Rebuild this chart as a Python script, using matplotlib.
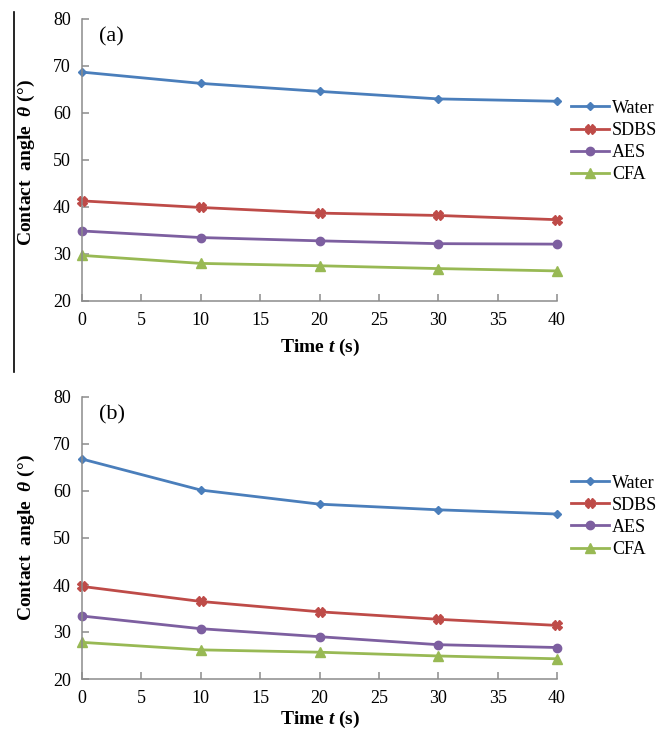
import matplotlib
matplotlib.use("Agg")
import matplotlib.pyplot as plt

# data
time_s = [0, 10, 20, 30, 40]
series_names = ["Water", "SDBS", "AES", "CFA"]

water_a = [68.7, 66.3, 64.6, 63.0, 62.5]
sdbs_a = [41.3, 39.9, 38.7, 38.2, 37.3]
aes_a = [34.9, 33.5, 32.8, 32.2, 32.1]
cfa_a = [29.7, 28.0, 27.5, 26.9, 26.4]

water_b = [66.8, 60.2, 57.2, 56.0, 55.1]
sdbs_b = [39.7, 36.5, 34.3, 32.7, 31.4]
aes_b = [33.4, 30.7, 29.0, 27.3, 26.7]
cfa_b = [27.8, 26.2, 25.7, 24.9, 24.3]

colors = ["#4a7ebb", "#be4b48", "#7d5fa0", "#98b954"]
markers = ["D", "X", "o", "^"]
msizes = [4.5, 6.5, 6, 6.5]

plt.rcParams["font.family"] = ["Liberation Serif", "DejaVu Serif"]
plt.rcParams["mathtext.fontset"] = "custom"
plt.rcParams["mathtext.rm"] = "Liberation Serif:bold"
plt.rcParams["mathtext.it"] = "Liberation Serif:italic:bold"
plt.rcParams["mathtext.bf"] = "Liberation Serif:bold"

W, H = 668, 731
fig = plt.figure(figsize=(W / 100, H / 100), dpi=100)


def draw_panel(top, bottom, data, tag, leg_y):
    ax = fig.add_axes([82 / W, 1 - bottom / H, 475 / W, (bottom - top) / H])
    for vals, name, c, m, ms in zip(data, series_names, colors, markers, msizes):
        ax.plot(time_s, vals, color=c, lw=2.0, marker=m, ms=ms,
                mec=c, mfc=c, label=name, clip_on=False)
    ax.set_xlim(0, 40)
    ax.set_ylim(20, 80)
    ax.set_xticks(range(0, 41, 5))
    ax.set_yticks(range(20, 81, 10))
    for s in ["top", "right"]:
        ax.spines[s].set_visible(False)
    for s in ["left", "bottom"]:
        ax.spines[s].set_color("#8c8c8c")
        ax.spines[s].set_linewidth(1.1)
    ax.tick_params(direction="in", length=5, width=1.1, color="#8c8c8c",
                   labelsize=13, pad=8)
    ax.text(0.035, 0.97, tag, transform=ax.transAxes, fontsize=16,
            va="top", ha="left")
    ax.legend(loc="center left", bbox_to_anchor=(1.03, leg_y), frameon=False,
              fontsize=13, handlelength=2.1, handletextpad=0.15,
              labelspacing=0.28, borderpad=0, borderaxespad=0)
    return ax


draw_panel(19, 301, [water_a, sdbs_a, aes_a, cfa_a], "(a)", 0.566)
draw_panel(397, 679, [water_b, sdbs_b, aes_b, cfa_b], "(b)", 0.577)

for yc in [162, 537]:
    fig.text(26 / W, 1 - yc / H, "Contact  angle  $\\theta$ (°)",
             rotation=90, ha="center", va="center", fontsize=14,
             fontweight="bold")
for yc in [347, 719]:
    fig.text(320 / W, 1 - yc / H, "Time $t$ (s)", ha="center", va="center",
             fontsize=14, fontweight="bold")

# thin black border line on the left of the top panel
fig.add_artist(plt.Line2D([14 / W, 14 / W], [1 - 12 / H, 1 - 372 / H],
                          color="black", lw=1.2))

fig.savefig("out.png", dpi=100)
